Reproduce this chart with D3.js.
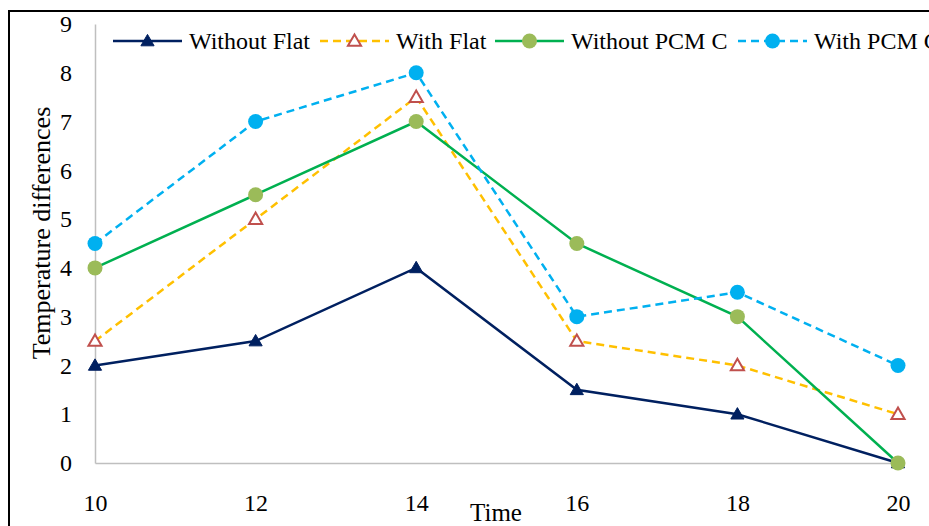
<!DOCTYPE html>
<html><head><meta charset="utf-8">
<script src="https://cdn.jsdelivr.net/npm/d3@7"></script>
<style>body{margin:0;background:#fff}text{font-family:"Liberation Serif","Times New Roman",serif;fill:#000}</style>
</head><body><svg id="c" width="929" height="526"></svg>
<script>
const times = [10, 12, 14, 16, 18, 20];
const seriesNames = ["Without Flat", "With Flat", "Without PCM C", "With PCM C"];
const withoutFlat = [2, 2.5, 4, 1.5, 1, 0];
const withFlat = [2.5, 5, 7.5, 2.5, 2, 1];
const withoutPCM = [4, 5.5, 7, 4.5, 3, 0];
const withPCM = [4.5, 7, 8, 3, 3.5, 2];
const yTicks = [0,1,2,3,4,5,6,7,8,9];

const styles = [
  {line:"#002060", dash:null, marker:"tri", fill:"#002060", stroke:"#002060"},
  {line:"#FFC000", dash:"8,5", marker:"tri", fill:"#fff", stroke:"#C0504D"},
  {line:"#00B050", dash:null, marker:"circ", fill:"#9BBB59", stroke:"#9BBB59"},
  {line:"#00B0F0", dash:"8,5", marker:"circ", fill:"#00B0F0", stroke:"#00B0F0"}
];
const data = [withoutFlat, withFlat, withoutPCM, withPCM];

const svg = d3.select("#c");
svg.append("rect").attr("x",9).attr("y",11).attr("width",940).attr("height",540)
  .attr("fill","none").attr("stroke","#000").attr("stroke-width",2);

const x = d3.scaleLinear().domain([10,20]).range([95,898]);
const y = d3.scaleLinear().domain([0,9]).range([463,24]);

const ya = svg.append("g").attr("transform","translate(95,0)")
  .call(d3.axisLeft(y).tickValues(yTicks).tickSize(0).tickPadding(23).tickFormat(d3.format("d")));
ya.select(".domain").attr("stroke","#bfbfbf").attr("stroke-width",1.5);
ya.selectAll("text").attr("font-size",24).style("font-family","Liberation Serif");

const xa = svg.append("g").attr("transform","translate(0,463)")
  .call(d3.axisBottom(x).tickValues(times).tickSize(0).tickPadding(31).tickFormat(d3.format("d")));
xa.select(".domain").attr("stroke","#bfbfbf").attr("stroke-width",1.5);
xa.selectAll("text").attr("font-size",24).style("font-family","Liberation Serif");

svg.append("text").attr("x",496).attr("y",521).attr("text-anchor","middle").attr("font-size",25).text("Time");
svg.append("text").attr("transform","translate(50,233) rotate(-90)").attr("text-anchor","middle")
  .attr("font-size",26).text("Temperature differences");

const tri = d3.symbol().type(d3.symbolTriangle).size(75);
function drawMarker(g, s, cx, cy){
  if(s.marker==="tri"){
    g.append("path").attr("d",tri).attr("transform",`translate(${cx},${cy+1})`)
      .attr("fill",s.fill).attr("stroke",s.stroke).attr("stroke-width",s.fill==="#fff"?2:1);
  } else {
    g.append("circle").attr("cx",cx).attr("cy",cy).attr("r",7.5).attr("fill",s.fill);
  }
}

const line = d3.line().x((d,i)=>x(times[i])).y(d=>y(d));
data.forEach((vals,k)=>{
  const s = styles[k];
  svg.append("path").attr("d",line(vals)).attr("fill","none").attr("stroke",s.line)
    .attr("stroke-width",2.5).attr("stroke-dasharray",s.dash);
});
data.forEach((vals,k)=>{
  const g = svg.append("g");
  vals.forEach((v,i)=>drawMarker(g, styles[k], x(times[i]), y(v)));
});

const legX = [113, 320, 495, 738];
seriesNames.forEach((n,k)=>{
  const s = styles[k];
  const g = svg.append("g");
  g.append("line").attr("x1",legX[k]).attr("x2",legX[k]+69).attr("y1",41).attr("y2",41)
    .attr("stroke",s.line).attr("stroke-width",2.5).attr("stroke-dasharray",s.dash);
  drawMarker(g, s, legX[k]+34.5, 41);
  g.append("text").attr("x",legX[k]+76).attr("y",49).attr("font-size",24).text(n);
});
</script></body></html>
